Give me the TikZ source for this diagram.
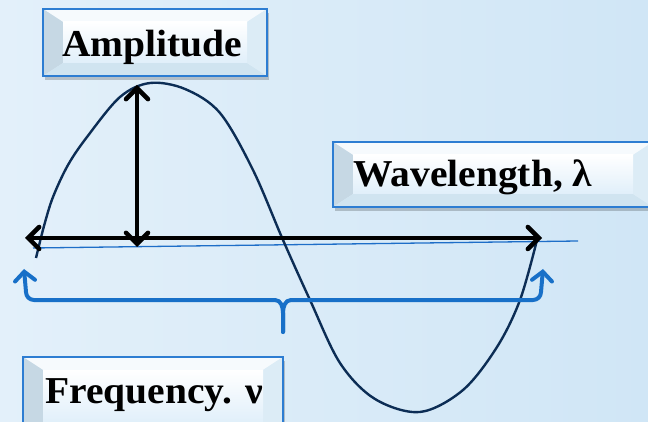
\documentclass[tikz,border=0pt]{standalone}
\usepackage{fontspec}
\setmainfont[FakeStretch=1.04]{Liberation Serif}
\usetikzlibrary{arrows.meta,shadows}
\definecolor{bgA}{RGB}{227,240,250}
\definecolor{bgB}{RGB}{208,230,246}
\definecolor{boxblue}{RGB}{45,125,210}
\definecolor{bevTop}{RGB}{246,250,253}
\definecolor{bevLeft}{RGB}{198,216,228}
\definecolor{bevRight}{RGB}{220,236,246}
\definecolor{bevBot}{RGB}{208,228,240}
\definecolor{faceB}{RGB}{224,239,250}
\definecolor{curvec}{RGB}{12,45,85}
\definecolor{bracec}{RGB}{24,112,200}
\definecolor{basec}{RGB}{30,110,200}
\tikzset{
  bevelbox/.style={draw=boxblue, line width=2pt, fill=faceB, inner sep=0pt,
    drop shadow={shadow xshift=2pt, shadow yshift=-4pt, opacity=0.2, fill=black},
    path picture={
      \path (path picture bounding box.north west) coordinate (pNW)
            (path picture bounding box.north east) coordinate (pNE)
            (path picture bounding box.south west) coordinate (pSW)
            (path picture bounding box.south east) coordinate (pSE);
      \fill[bevTop] (pNW) -- (pNE) -- ([shift={(-20pt,-13pt)}]pNE) -- ([shift={(20pt,-13pt)}]pNW) -- cycle;
      \fill[bevLeft] (pNW) -- ([shift={(20pt,-13pt)}]pNW) -- ([shift={(20pt,13pt)}]pSW) -- (pSW) -- cycle;
      \fill[bevBot] (pSW) -- ([shift={(20pt,13pt)}]pSW) -- ([shift={(-20pt,13pt)}]pSE) -- (pSE) -- cycle;
      \fill[bevRight] (pNE) -- (pSE) -- ([shift={(-20pt,13pt)}]pSE) -- ([shift={(-20pt,-13pt)}]pNE) -- cycle;
      \shade[top color=white, bottom color=faceB] ([shift={(20pt,-13pt)}]pNW) rectangle ([shift={(-20pt,13pt)}]pSE);
    }},
  lbl/.style={font=\fontsize{38}{42}\selectfont\bfseries, anchor=base west, inner sep=0pt},
  blackarrow/.style={line width=4.5pt, line cap=round,
    {Straight Barb[length=11pt,width=22pt,line cap=round]}-{Straight Barb[length=11pt,width=22pt,line cap=round]}},
  wave/.style={draw=curvec, line width=2.4pt},
  baseline/.style={draw=basec, line width=1.3pt},
  bracestyle/.style={draw=bracec, line width=4pt, line cap=round, line join=round},
  bracetip/.style={-{Straight Barb[length=9pt,width=20pt,line cap=round]}},
}
\begin{document}
\begin{tikzpicture}[x=1pt,y=-1pt]
\useasboundingbox (0,0) rectangle (648,422);
\clip (0,0) rectangle (648,422);
\shade[left color=bgA, right color=bgB] (0,0) rectangle (648,422);

% boxes
\node[bevelbox, minimum width=224pt, minimum height=67pt] (ampbox) at (155,42.5) {};
\node[lbl] (amptext) at (62,57) {Amplitude};
\node[bevelbox, minimum width=320pt, minimum height=65pt] (wavebox) at (493,174.5) {};
\node[lbl] (wavetext) at (353,187) {Wavelength, λ};
\node[bevelbox, minimum width=260pt, minimum height=79pt] (freqbox) at (153,396.5) {};
\node[lbl] (freqtext) at (45,403) {Frequency. ν};

% baseline
\coordinate (bL) at (33,248);
\coordinate (bR) at (578,241);
\draw[baseline] (bL) -- (bR);

% wave
\draw[wave] plot[smooth, tension=0.55] coordinates {
  (36,258) (44,226) (53,197) (68,165) (87,137) (120,97) (150,83) (185,89)
  (220,113) (253,170) (283,240) (310,300) (340,363) (375,399) (420,412)
  (463,390) (497,347) (520,300) (537,240)};

% arrows
\coordinate (hL) at (25,238);
\coordinate (hR) at (542,238);
\coordinate (vT) at (137,85);
\coordinate (vB) at (137,247);
\draw[blackarrow] (hL) -- (hR);
\draw[blackarrow] (vT) -- (vB);

% brace
\coordinate (brL) at (24,269);
\coordinate (brR) at (543,269);
\coordinate (brM) at (283,332);
\draw[bracestyle, bracetip] (brM) -- (283,313) to[out=90,in=180] (291,300) -- (533,300) to[out=0,in=-90] (541,292) -- (brR);
\draw[bracestyle, bracetip] (brM) -- (283,313) to[out=90,in=0] (275,300) -- (34,300) to[out=180,in=-90] (26,292) -- (brL);
\end{tikzpicture}
\end{document}
